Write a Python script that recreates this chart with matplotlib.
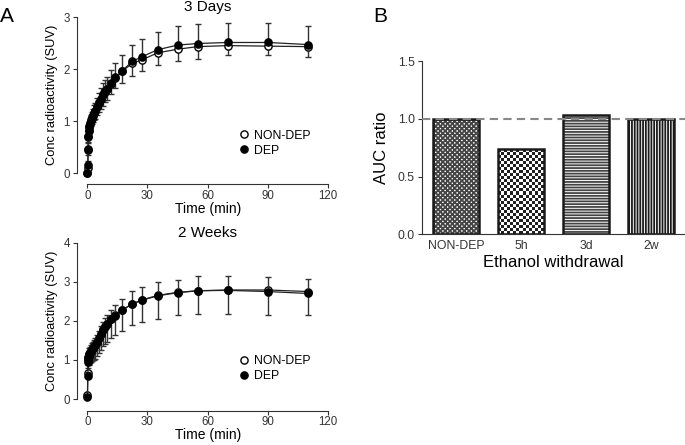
import numpy as np
import matplotlib
matplotlib.use("Agg")
import matplotlib.pyplot as plt
from matplotlib.lines import Line2D

plt.rcParams['font.family'] = ['Liberation Sans', 'DejaVu Sans']
plt.rcParams['hatch.linewidth'] = 1.3

# frame mid-times (min)
times = [0.08, 0.25, 0.42, 0.58, 0.75, 1, 1.5, 2, 2.5, 3, 3.5, 4, 5, 6, 7, 8, 9, 10,
         12, 14, 17.5, 22.5, 27.5, 35, 45, 55, 70, 90, 110]

# 3 days
d3_dep = [0.0, 0.15, 0.47, 0.72, 0.80, 0.88, 0.95, 1.00, 1.05, 1.10, 1.15, 1.19, 1.27, 1.35,
          1.43, 1.51, 1.57, 1.62, 1.73, 1.84, 1.97, 2.15, 2.24, 2.37, 2.46, 2.49, 2.51, 2.51, 2.47]
d3_non = [0.0, 0.10, 0.45, 0.70, 0.82, 0.90, 0.97, 1.02, 1.07, 1.12, 1.16, 1.20, 1.28, 1.36,
          1.43, 1.50, 1.56, 1.61, 1.72, 1.82, 1.96, 2.11, 2.18, 2.31, 2.38, 2.43, 2.45, 2.44, 2.43]
d3_dep_err = [0.0, 0.08, 0.10, 0.10, 0.10, 0.10, 0.10, 0.12, 0.13, 0.14, 0.15, 0.16, 0.17, 0.18,
              0.20, 0.22, 0.22, 0.23, 0.26, 0.28, 0.29, 0.31, 0.34, 0.34, 0.36, 0.38, 0.37, 0.37, 0.36]
d3_non_err = [0.0, 0.08, 0.10, 0.10, 0.10, 0.10, 0.10, 0.12, 0.13, 0.14, 0.15, 0.16, 0.17, 0.18,
              0.20, 0.21, 0.20, 0.20, 0.20, 0.19, 0.22, 0.24, 0.21, 0.23, 0.22, 0.23, 0.19, 0.17, 0.19]

# 2 weeks
w2_dep = [0.05, 0.58, 0.95, 1.05, 1.10, 1.15, 1.18, 1.22, 1.26, 1.30, 1.34, 1.38, 1.45, 1.55,
          1.66, 1.77, 1.85, 1.92, 2.04, 2.13, 2.28, 2.43, 2.53, 2.64, 2.72, 2.77, 2.78, 2.75, 2.70]
w2_non = [0.10, 0.66, 1.00, 1.08, 1.12, 1.16, 1.20, 1.24, 1.28, 1.32, 1.36, 1.40, 1.47, 1.57,
          1.67, 1.78, 1.86, 1.93, 2.05, 2.14, 2.28, 2.44, 2.54, 2.65, 2.73, 2.77, 2.79, 2.79, 2.75]
w2_dep_err = [0.05, 0.10, 0.12, 0.13, 0.14, 0.15, 0.15, 0.16, 0.17, 0.17, 0.18, 0.18, 0.19, 0.20,
              0.20, 0.21, 0.22, 0.23, 0.24, 0.28, 0.28, 0.33, 0.34, 0.35, 0.33, 0.37, 0.38, 0.37, 0.36]
w2_non_err = [0.05, 0.10, 0.20, 0.22, 0.24, 0.26, 0.28, 0.30, 0.32, 0.33, 0.35, 0.37, 0.38, 0.40,
              0.42, 0.43, 0.44, 0.48, 0.50, 0.51, 0.54, 0.54, 0.56, 0.60, 0.59, 0.60, 0.61, 0.63, 0.61]

# AUC ratios
groups = ['NON-DEP', '5h', '3d', '2w']
auc = [1.0, 0.735, 1.03, 1.0]

W, H = 685, 445
fig = plt.figure(figsize=(W / 100, H / 100), dpi=100)


def px_axes(left, top, right, bottom):
    return fig.add_axes([left / W, (H - bottom) / H, (right - left) / W, (bottom - top) / H])


def time_panel(ax, dep, non, dep_err, non_err, ymax, title, xoff):
    z = np.zeros(len(times))
    ax.errorbar(times, non, yerr=[non_err, z], fmt='-o', color='#222222', mfc='white',
                mec='black', ms=5.2, mew=1.0, lw=0.9, elinewidth=1.0, capsize=2.5,
                capthick=1.0, ecolor='#333333', clip_on=False, zorder=3)
    ax.errorbar(times, dep, yerr=[z, dep_err], fmt='-o', color='#222222', mfc='black',
                mec='black', ms=5.2, lw=0.9, elinewidth=1.0, capsize=2.5, capthick=1.0,
                ecolor='#333333', clip_on=False, zorder=4)
    ax.set_xlim(0, 120)
    ax.set_ylim(0, ymax)
    ax.set_xticks([0, 30, 60, 90, 120])
    ax.set_yticks(range(ymax + 1))
    for s in ['top', 'right']:
        ax.spines[s].set_visible(False)
    ax.spines['left'].set_position(('outward', 7.5))
    ax.spines['bottom'].set_position(('outward', xoff))
    ax.spines['left'].set_bounds(0, ymax)
    ax.spines['bottom'].set_bounds(0, 120)
    for s in ['left', 'bottom']:
        ax.spines[s].set_linewidth(0.8)
        ax.spines[s].set_color('#333333')
    ax.tick_params(labelsize=8.3, length=3, width=0.8, colors='#333333', pad=2)
    ax.tick_params(axis='x', pad=1)
    ax.set_xlabel('Time (min)', fontsize=10, labelpad=0)
    ax.set_ylabel('Conc radioactivity (SUV)', fontsize=9.3, labelpad=4)
    ax.set_title(title, fontsize=11, pad=4)
    handles = [Line2D([], [], ls='none', marker='o', mfc='white', mec='black', ms=5.2),
               Line2D([], [], ls='none', marker='o', mfc='black', mec='black', ms=5.2)]
    ax.legend(handles, ['NON-DEP', 'DEP'], frameon=False, fontsize=8.8, loc='upper left',
              bbox_to_anchor=(0.6, 0.31), handletextpad=0.2, labelspacing=0.25,
              handlelength=1.2, borderaxespad=0)


ax1 = px_axes(87.3, 17, 328, 173)
time_panel(ax1, d3_dep, d3_non, d3_dep_err, d3_non_err, 3, '3 Days', 8)

ax2 = px_axes(87.3, 242.7, 328, 399)
time_panel(ax2, w2_dep, w2_non, w2_dep_err, w2_non_err, 4, '2 Weeks', 8.5)

# panel B
ax3 = px_axes(421.7, 61, 685, 234.3)
x = np.arange(len(groups))
bw = 0.7
hatches = ['xxxxxxx', None, '------', '||||||']
hcols = ['#444444', None, '#444444', '#1a1a1a']
bars = ax3.bar(x, auc, width=bw, color='white', edgecolor='none', zorder=2)
for b, h, c in zip(bars, hatches, hcols):
    if h:
        b.set_hatch(h)
        b.set_edgecolor(c)
        b.set_linewidth(0)
# checkerboard texture for the 5h bar
b5 = bars[1]
x0, y0 = b5.get_x(), b5.get_y()
chk = np.indices((28, 15)).sum(axis=0) % 2
ax3.imshow(chk, cmap='gray', vmin=-0.15, vmax=1, interpolation='nearest', aspect='auto',
           extent=[x0, x0 + b5.get_width(), y0, y0 + b5.get_height()], zorder=2,
           clip_path=b5, clip_on=True)
ax3.bar(x, auc, width=bw, color='none', edgecolor='#1a1a1a', linewidth=1.8, zorder=3)
ax3.axhline(1.0, color='#888888', ls=(0, (4, 2.5)), lw=1.5, zorder=4)
ax3.set_xlim(-0.53, 3.52)
ax3.set_ylim(0, 1.5)
ax3.set_yticks([0.0, 0.5, 1.0, 1.5])
ax3.set_yticklabels(['0.0', '0.5', '1.0', '1.5'])
ax3.set_xticks(x)
ax3.set_xticklabels(groups)
for s in ['top', 'right']:
    ax3.spines[s].set_visible(False)
ax3.spines['left'].set_bounds(0, 1.5)
for s in ['left', 'bottom']:
    ax3.spines[s].set_linewidth(0.8)
    ax3.spines[s].set_color('#333333')
ax3.tick_params(axis='y', labelsize=8.8, length=3, width=0.8, colors='#333333', pad=2)
ax3.tick_params(axis='x', labelsize=8.8, length=0, colors='#333333', pad=4)
ax3.set_ylabel('AUC ratio', fontsize=12, labelpad=6)
ax3.set_xlabel('Ethanol withdrawal', fontsize=12, labelpad=2)

fig.text(0.0, 0.962, 'A', fontsize=15, va='center', ha='left')
fig.text(373 / W, 0.962, 'B', fontsize=15, va='center', ha='left')

fig.savefig('out.png', dpi=100)
